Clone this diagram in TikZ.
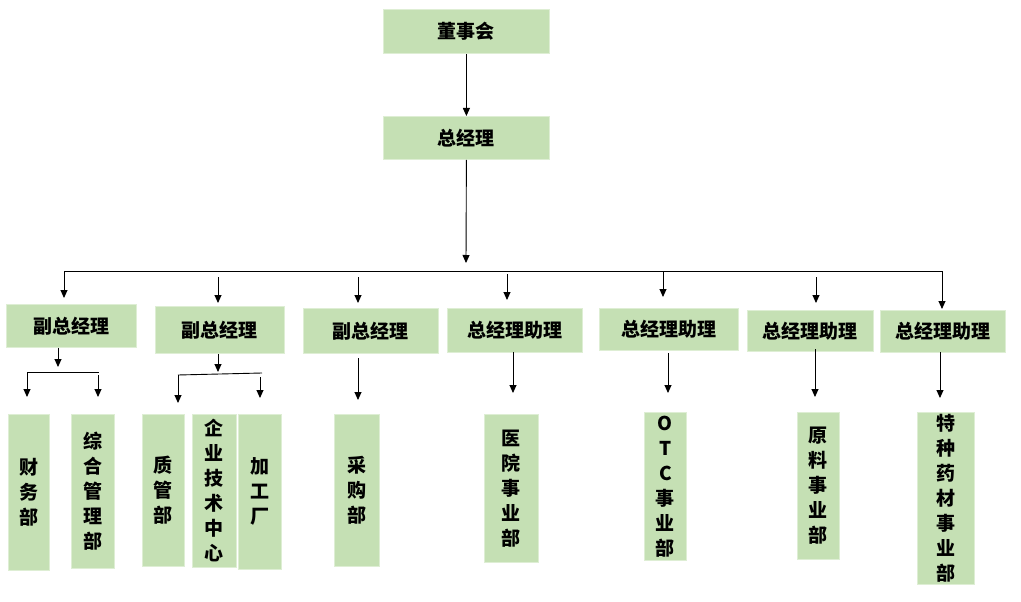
\documentclass[tikz,border=0pt]{standalone}
\usepackage{fontspec}
\newfontfamily\cjk{Noto Sans CJK SC}
\usetikzlibrary{arrows.meta}
\definecolor{boxgreen}{RGB}{197,224,180}
\definecolor{boxedge}{RGB}{222,238,212}
\begin{document}
\begin{tikzpicture}[x=1pt,y=-1pt,
  box/.style={fill=boxgreen, draw=boxedge, line width=0.8pt, inner sep=0pt, anchor=north west,
    font=\cjk\bfseries\fontsize{19}{25}\selectfont, align=center},
  arr/.style={-{Triangle[length=8pt,width=7pt]}, line width=0.9pt},
  ln/.style={line width=0.9pt}]
\useasboundingbox (0,0) rectangle (1021,602);
% top
\node[box, minimum width=166pt, minimum height=44pt] (dsh) at (383,9) {董事会};
\node[box, minimum width=166pt, minimum height=43pt] (zjl) at (383,116) {总经理};
% level 2
\node[box, minimum width=130pt, minimum height=43pt] (b1) at (6,304) {副总经理};
\node[box, minimum width=129pt, minimum height=47pt] (b2) at (155,306) {副总经理};
\node[box, minimum width=135pt, minimum height=45pt] (b3) at (303,308) {副总经理};
\node[box, minimum width=135pt, minimum height=44pt] (b4) at (447,308) {总经理助理};
\node[box, minimum width=139pt, minimum height=42pt] (b5) at (599,308) {总经理助理};
\node[box, minimum width=126pt, minimum height=41pt] (b6) at (747,310) {总经理助理};
\node[box, minimum width=125pt, minimum height=42pt] (b7) at (880,310) {总经理助理};
% level 3
\node[box, minimum width=41pt, minimum height=156pt] (c1) at (8,414) {财\\务\\部};
\node[box, minimum width=43pt, minimum height=154pt] (c2) at (71,414) {综\\合\\管\\理\\部};
\node[box, minimum width=42pt, minimum height=152pt] (c3) at (142,414) {质\\管\\部};
\node[box, minimum width=44pt, minimum height=153pt] (c4) at (192,414) {企\\业\\技\\术\\中\\心};
\node[box, minimum width=43pt, minimum height=155pt] (c5) at (238,414) {加\\工\\厂};
\node[box, minimum width=45pt, minimum height=152pt] (c6) at (334,414) {采\\购\\部};
\node[box, minimum width=54pt, minimum height=148pt] (c7) at (484,414) {医\\院\\事\\业\\部};
\node[box, minimum width=42pt, minimum height=148pt] (c8) at (644,412) {O\\T\\C\\事\\业\\部};
\node[box, minimum width=42pt, minimum height=147pt] (c9) at (797,412) {原\\料\\事\\业\\部};
\node[box, minimum width=57pt, minimum height=172pt] (c10) at (917,412) {特\\种\\药\\材\\事\\业\\部};
% top connectors
\draw[arr] (dsh.south) -- (zjl.north);
\coordinate (h0) at (466,263);
\draw[arr] (zjl.south) -- (h0);
\coordinate (hl) at (64,271);
\coordinate (hr) at (942,271);
\draw[ln] (hl) -- (hr);
% level 2 arrows
\coordinate (s1) at (64,271);
\coordinate (s2) at (218,277);
\coordinate (s3) at (358,277);
\coordinate (s4) at (507,274);
\coordinate (s5) at (663,272);
\coordinate (s6) at (816,277);
\coordinate (s7) at (942,271);
\draw[arr, shorten >=6pt] (s1) -- (s1 |- b1.north);
\draw[arr, shorten >=3pt] (s2) -- (s2 |- b2.north);
\draw[arr, shorten >=5pt] (s3) -- (s3 |- b3.north);
\draw[arr, shorten >=8pt] (s4) -- (s4 |- b4.north);
\draw[arr, shorten >=11pt] (s5) -- (s5 |- b5.north);
\draw[arr, shorten >=7pt] (s6) -- (s6 |- b6.north);
\draw[arr, shorten >=1pt] (s7) -- (s7 |- b7.north);
% branch under b1
\coordinate (d1) at (58,367);
\draw[arr] (b1.south -| d1) -- (d1);
\coordinate (e1l) at (27,372);
\coordinate (e1r) at (99,372);
\draw[ln] (e1l) -- (e1r);
\coordinate (f1) at (98,375);
\draw[arr, shorten >=17pt] (e1l) -- (e1l |- c1.north);
\draw[arr, shorten >=17pt] (f1) -- (f1 |- c2.north);
% branch under b2
\coordinate (d2) at (218,372);
\draw[arr] (b2.south -| d2) -- (d2);
\coordinate (e2l) at (178,375);
\coordinate (e2r) at (262,373);
\draw[ln] (e2l) -- (e2r);
\coordinate (f2) at (260,377);
\draw[arr, shorten >=11pt] (e2l) -- (e2l |- c3.north);
\draw[arr, shorten >=16pt] (f2) -- (f2 |- c5.north);
% single drops
\coordinate (g3) at (358,358);
\coordinate (g4) at (513,352);
\coordinate (g5) at (668,353);
\coordinate (g6) at (815,349);
\coordinate (g7) at (940,352);
\draw[arr, shorten >=14pt] (g3) -- (g3 |- c6.north);
\draw[arr, shorten >=21pt] (g4) -- (g4 |- c7.north);
\draw[arr, shorten >=19pt] (g5) -- (g5 |- c8.north);
\draw[arr, shorten >=15pt] (g6) -- (g6 |- c9.north);
\draw[arr, shorten >=14pt] (g7) -- (g7 |- c10.north);
\end{tikzpicture}
\end{document}
